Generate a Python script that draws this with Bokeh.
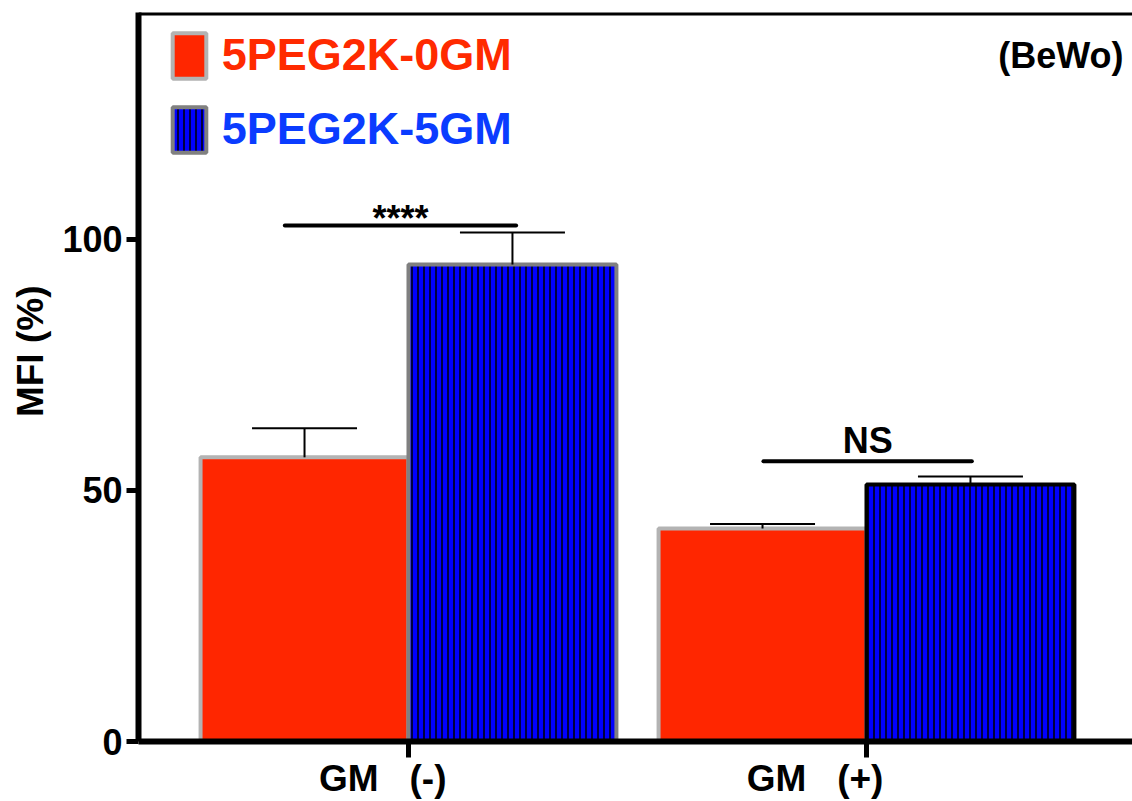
from bokeh.plotting import figure
from bokeh.models import (ColumnDataSource, Range1d, FixedTicker, Legend, LegendItem,
                          Label, Span, Whisker, TeeHead)
from bokeh.core.properties import value
from bokeh.embed import file_html
from bokeh.resources import INLINE

# ---------------- data ----------------
groups = ["GM   (-)", "GM   (+)"]
series = ["5PEG2K-0GM", "5PEG2K-5GM"]
mfi_0gm = [56.6, 42.4]
err_0gm = [5.8, 0.9]
mfi_5gm = [95.0, 51.2]
err_5gm = [6.4, 1.6]
sig_labels = ["****", "NS"]
sig_y = [102.8, 55.8]
sig_left = [-0.27, -0.225]    # bracket extent relative to group centre (group units)
sig_right = [0.235, 0.23]
cell_label = "(BeWo)"
y_title = "MFI (%)"
y_ticks = [0, 50, 100]

# ---------------- styles ----------------
FONT = "Liberation Sans"
RED = "#ff2600"
BLUE = "#0000ff"
RED_TXT = "#ff2a00"
BLUE_TXT = "#0a3cff"
NBSP = "\u00a0"
bar_w = 0.454
xlabel_pad = [5, 10]   # trailing non-breaking spaces: shift each category label left

gi = list(range(len(groups)))

src0 = ColumnDataSource(dict(
    x=[i - bar_w / 2 for i in gi], top=mfi_0gm,
    upper=[v + e for v, e in zip(mfi_0gm, err_0gm)],
    lc=["#b3b3b3", "#b3b3b3"]))
src5 = ColumnDataSource(dict(
    x=[i + bar_w / 2 for i in gi], top=mfi_5gm,
    upper=[v + e for v, e in zip(mfi_5gm, err_5gm)],
    lc=["#808080", "#000000"]))

p = figure(width=1132, height=801, output_backend="svg", toolbar_location=None,
           x_range=Range1d(-0.5895, 1.5808), y_range=Range1d(0, 145.2),
           min_border_left=138, min_border_right=0, min_border_top=12, min_border_bottom=60)
p.outline_line_color = None
p.xgrid.visible = False
p.ygrid.visible = False
p.background_fill_color = "white"
p.border_fill_color = "white"

r0 = p.vbar(x="x", top="top", bottom=0, width=bar_w, source=src0,
            fill_color=RED, line_color="lc", line_width=4)
r5 = p.vbar(x="x", top="top", bottom=0, width=bar_w, source=src5,
            fill_color=BLUE, line_color="lc", line_width=4,
            hatch_pattern="|", hatch_color="black", hatch_scale=6, hatch_weight=1.5)

for s in (src0, src5):
    w = Whisker(source=s, base="x", upper="upper", lower="top", dimension="height",
                line_width=2, line_color="black", level="overlay",
                upper_head=TeeHead(size=105, line_width=2, line_color="black"), lower_head=None)
    p.add_layout(w)

# significance brackets
p.segment(x0=[g + a for g, a in zip(gi, sig_left)], y0=sig_y,
          x1=[g + b for g, b in zip(gi, sig_right)], y1=sig_y,
          line_width=4, line_color="black", line_cap="round")
sig_mid = [g + (a + b) / 2 for g, a, b in zip(gi, sig_left, sig_right)]
p.text(x=[sig_mid[0]], y=[sig_y[0]], text=[sig_labels[0]], text_align="center",
       text_baseline="alphabetic", y_offset=-7, text_font=value(FONT),
       text_font_style="bold", text_font_size="36px", text_color="black")
p.text(x=[sig_mid[1]], y=[sig_y[1]], text=[sig_labels[1]], text_align="center",
       text_baseline="alphabetic", y_offset=-21, text_font=value(FONT),
       text_font_style="bold", text_font_size="36px", text_color="black")

# axes
yax = p.yaxis[0]
yax.ticker = FixedTicker(ticks=y_ticks)
# leading non-breaking spaces raise the rotated title, as in the original
yax.axis_label = NBSP * 5 + y_title
yax.axis_label_text_font = FONT
yax.axis_label_text_font_style = "bold"
yax.axis_label_text_font_size = "37px"
yax.axis_label_text_color = "black"
yax.axis_label_standoff = 8
yax.major_label_text_font = FONT
yax.major_label_text_font_style = "bold"
yax.major_label_text_font_size = "36px"
yax.major_label_text_color = "black"
yax.major_label_standoff = 4
yax.axis_line_width = 6
yax.major_tick_line_width = 5
yax.major_tick_out = 12
yax.major_tick_in = 0
yax.minor_tick_line_color = None

xax = p.xaxis[0]
xax.ticker = FixedTicker(ticks=gi)
xax.major_label_overrides = {i: g.replace(" ", NBSP) + NBSP * n
                             for i, g, n in zip(gi, groups, xlabel_pad)}
xax.major_label_text_font = FONT
xax.major_label_text_font_style = "bold"
xax.major_label_text_font_size = "37px"
xax.major_label_text_color = "black"
xax.major_label_standoff = 0
xax.axis_line_width = 6
xax.major_tick_line_width = 5
xax.major_tick_out = 16
xax.major_tick_in = 0
xax.minor_tick_line_color = None

# top frame line
p.add_layout(Span(location=145.2, dimension="width", line_color="black", line_width=6))

# cell line label
p.add_layout(Label(x=985, y=686, x_units="screen", y_units="screen", text=cell_label,
                   text_align="right", text_baseline="alphabetic", text_font=FONT,
                   text_font_style="bold", text_font_size="36px", text_color="black"))

# legends
for r, lab, col, loc in ((r0, series[0], RED_TXT, (29.75, 657.4)),
                         (r5, series[1], BLUE_TXT, (29.75, 583.4))):
    lg = Legend(items=[LegendItem(label=lab, renderers=[r], index=0)], location=loc,
                glyph_width=42, glyph_height=57, label_standoff=12, padding=0, margin=0,
                border_line_color=None, background_fill_alpha=0,
                label_text_font=FONT, label_text_font_style="bold",
                label_text_font_size="45px", label_text_color=col)
    p.add_layout(lg)

open("out.html", "w").write(file_html(p, INLINE))
